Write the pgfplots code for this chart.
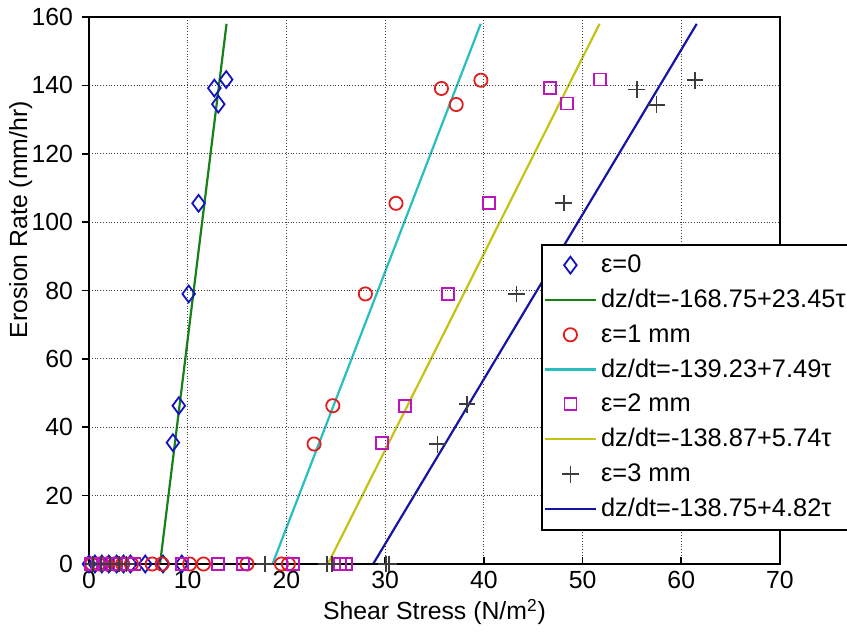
\documentclass[border=0pt]{standalone}
\usepackage{fontspec}
\setmainfont{Liberation Sans}
\usepackage{pgfplots}
\pgfplotsset{compat=1.18}
\definecolor{cdia}{RGB}{20,20,190}
\definecolor{cgreen}{RGB}{20,130,20}
\definecolor{ccyan}{RGB}{40,190,190}
\definecolor{cred}{RGB}{225,30,30}
\definecolor{cmag}{RGB}{190,20,190}
\definecolor{cyel}{RGB}{195,195,20}
\definecolor{cplus}{RGB}{60,60,60}
\definecolor{cblue}{RGB}{20,20,165}
\pgfplotsset{mylegend/.style={legend image code/.code={\draw[mark repeat=2,mark phase=2,##1] plot coordinates {(0cm,0cm) (0.45cm,0cm) (0.9cm,0cm)};}}}
\begin{document}
\begin{tikzpicture}
\begin{axis}[
  scale only axis,
  width=345.5pt, height=273.5pt,
  xmin=0, xmax=70, ymin=0, ymax=160,
  xtick={0,10,...,70}, ytick={0,20,...,160},
  tick pos=left,
  xtick align=inside, ytick align=outside,
  major tick length=3.5pt,
  grid=major,
  grid style={densely dotted, black!75, line width=0.5pt},
  axis line style={line width=1pt},
  tick style={line width=0.8pt, black},
  /pgf/number format/assume math mode=true,
  tick label style={font=\fontsize{12.4pt}{14pt}\selectfont},
  label style={font=\fontsize{12.4pt}{14pt}\selectfont},
  xlabel={Shear Stress (N/m\textsuperscript{2})},
  ylabel={Erosion Rate (mm/hr)},
  xlabel style={at={(axis description cs:0.5,-0.088)}, anchor=center},
  ylabel style={at={(axis description cs:-0.099,0.629)}, anchor=center},
  yticklabel style={xshift=-1pt},
  clip=false,
  axis on top,
  legend style={at={(rel axis cs:0.654,0.585)}, anchor=north west, draw=black, line width=0.8pt,
    font=\fontsize{12.7pt}{14pt}\selectfont, row sep=2.9pt, inner ysep=3pt, inner xsep=1pt, fill=white},
  legend cell align=left,
]
\addplot[only marks, mark=diamond, mark size=4.2pt, cdia, line width=0.9pt, mark options={solid}, mylegend] coordinates {
(0,0) (0.6,0) (1.3,0) (2.0,0) (2.8,0) (3.5,0) (4.2,0) (5.7,0) (7.5,0) (9.4,0)
(8.5,35.5) (9.1,46.3) (10.1,79) (11.1,105.5) (12.7,139.2) (13.1,134.5) (13.9,141.7)};
\addlegendentry{ε=0}
\addplot[cgreen, line width=1.1pt, mylegend] coordinates {(7.196,0) (13.934,158)};
\addlegendentry{dz/dt=-168.75+23.45τ}
\addplot[only marks, mark=o, mark size=3.3pt, cred, line width=0.9pt, mylegend] coordinates {
(0.3,0) (1.0,0) (1.8,0) (2.6,0) (3.4,0) (4.3,0) (6.4,0) (7.4,0) (10.2,0) (11.6,0) (16.0,0) (19.5,0) (20.2,0)
(22.8,35.1) (24.7,46.3) (28.0,79) (31.1,105.5) (35.7,139.1) (37.2,134.4) (39.7,141.5)};
\addlegendentry{ε=1 mm}
\addplot[ccyan, line width=1.1pt, mylegend] coordinates {(18.589,0) (39.684,158)};
\addlegendentry{dz/dt=-139.23+7.49τ}
\addplot[only marks, mark=square, mark size=3pt, cmag, line width=0.9pt, mylegend] coordinates {
(0.2,0) (0.9,0) (1.6,0) (2.4,0) (3.2,0) (4.0,0) (4.6,0) (9.4,0) (13.1,0) (15.6,0) (20.7,0) (25.4,0) (26.0,0)
(29.7,35.3) (32.0,46.3) (36.4,79) (40.5,105.6) (46.7,139.3) (48.4,134.7) (51.8,141.7)};
\addlegendentry{ε=2 mm}
\addplot[cyel, line width=1.1pt, mylegend] coordinates {(24.194,0) (51.720,158)};
\addlegendentry{dz/dt=-138.87+5.74τ}
\addplot[only marks, mark=+, mark size=4.2pt, cplus, line width=0.9pt, mylegend] coordinates {
(0.4,0) (1.2,0) (2.1,0) (3.0,0) (3.8,0) (17.8,0) (24.1,0) (24.6,0) (30.1,0) (30.4,0)
(35.3,35) (38.3,46.7) (43.3,79) (48.1,105.6) (55.5,138.8) (57.5,134.3) (61.4,141.5)};
\addlegendentry{ε=3 mm}
\addplot[cblue, line width=1.1pt, mylegend] coordinates {(28.786,0) (61.567,158)};
\addlegendentry{dz/dt=-138.75+4.82τ}
\end{axis}
\pgfresetboundingbox
\path[use as bounding box] (-44.5pt,-34pt) rectangle (379pt,282pt);
\end{tikzpicture}
\end{document}
